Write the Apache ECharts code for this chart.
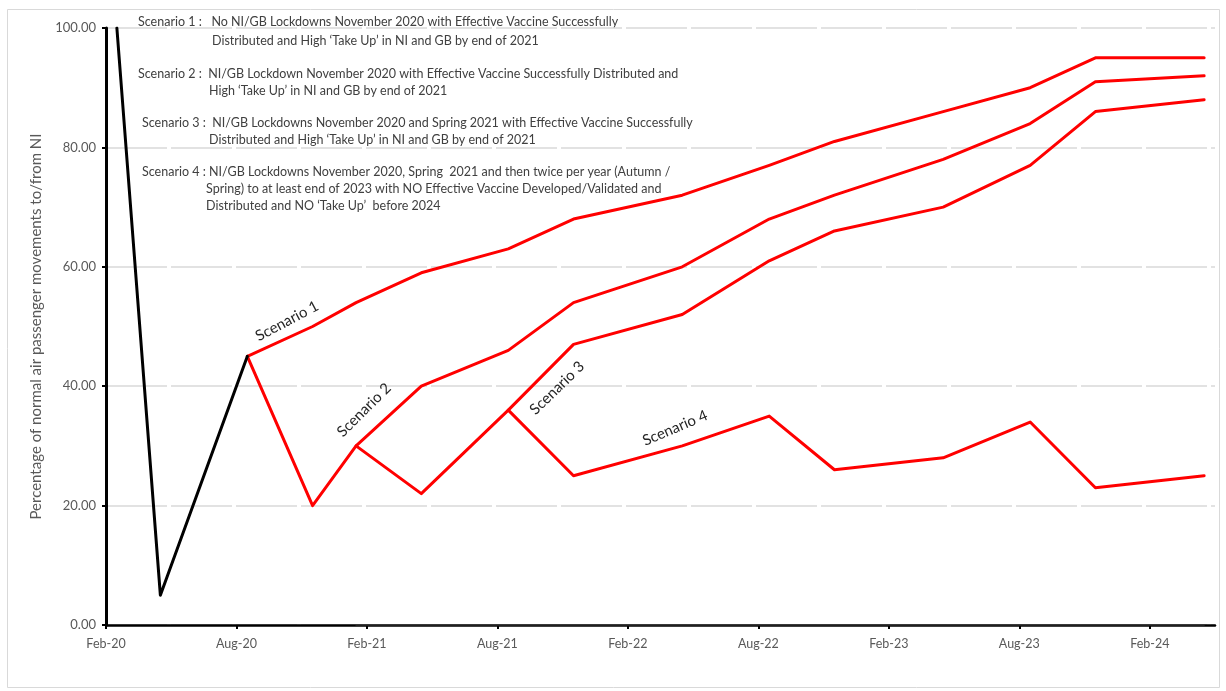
<!DOCTYPE html>
<html>
<head>
<meta charset="utf-8">
<script src="https://cdn.jsdelivr.net/npm/echarts@6/dist/echarts.min.js"></script>
<style>
  html, body { margin: 0; padding: 0; background: #ffffff; }
  #chart { width: 1226px; height: 691px; }
</style>
</head>
<body>
<div id="chart"></div>
<script>
// Observation periods (plotted mid-month) and their position in months after 1 Feb 2020
const periods  = ['Feb-20', 'Apr-20', 'Aug-20', 'Nov-20', 'Jan-21', 'Apr-21', 'Aug-21', 'Nov-21',
                  'Apr-22', 'Aug-22', 'Nov-22', 'Apr-23', 'Aug-23', 'Nov-23', 'Apr-24'];
const monthPos = [0.5, 2.5, 6.5, 9.5, 11.5, 14.5, 18.5, 21.5, 26.5, 30.5, 33.5, 38.5, 42.5, 45.5, 50.5];

// Percentage of normal air passenger movements to/from NI
const actual    = [100, 5, 45, null, null, null, null, null, null, null, null, null, null, null, null];
const scenario1 = [null, null, 45, 50, 54, 59, 63, 68, 72, 77, 81, 86, 90, 95, 95];
const scenario2 = [null, null, 45, 20, 30, 40, 46, 54, 60, 68, 72, 78, 84, 91, 92];
const scenario3 = [null, null, null, null, 30, 22, 36, 47, 52, 61, 66, 70, 77, 86, 88];
const scenario4 = [null, null, null, null, null, null, 36, 25, 30, 35, 26, 28, 34, 23, 25];
const baseline  = [null, null, null, null, 0, 0, 0, 0, 0, 0, 0, 0, 0, 0, 0];

// Axis ticks
const xTickLabels = ['Feb-20', 'Aug-20', 'Feb-21', 'Aug-21', 'Feb-22', 'Aug-22', 'Feb-23', 'Aug-23', 'Feb-24'];
const xTickStep = 6;   // months between labels
const yTicks = [0, 20, 40, 60, 80, 100];

const scenarioNotes = [
  ['Scenario 1 :   No NI/GB Lockdowns November 2020 with Effective Vaccine Successfully',
   'Distributed and High \u2018Take Up\u2019 in NI and GB by end of 2021'],
  ['Scenario 2 :  NI/GB Lockdown November 2020 with Effective Vaccine Successfully Distributed and',
   'High \u2018Take Up\u2019 in NI and GB by end of 2021'],
  ['Scenario 3 :  NI/GB Lockdowns November 2020 and Spring 2021 with Effective Vaccine Successfully',
   'Distributed and High \u2018Take Up\u2019 in NI and GB by end of 2021'],
  ['Scenario 4 : NI/GB Lockdowns November 2020, Spring  2021 and then twice per year (Autumn /',
   'Spring) to at least end of 2023 with NO Effective Vaccine Developed/Validated and',
   'Distributed and NO \u2018Take Up\u2019  before 2024']
];

const FONT = 'Lato, "Open Sans", sans-serif';

function pairs(values) {
  const out = [];
  values.forEach((v, i) => { if (v !== null) out.push([monthPos[i], v]); });
  return out;
}

const xTickValues = xTickLabels.map((_, i) => i * xTickStep);

function lineSeries(name, values, color, width, z) {
  return {
    name: name,
    type: 'line',
    data: pairs(values),
    symbol: 'none',
    z: z,
    lineStyle: { color: color, width: width, cap: 'round', join: 'round' },
    emphasis: { disabled: true },
    animation: false
  };
}

const chart = echarts.init(document.getElementById('chart'), null, { renderer: 'canvas' });

// Scenario description block and in-plot scenario tags
const noteLayout = [
  { x: 138, xIndent: 212, y: 22, dy: 19 },
  { x: 138, xIndent: 209, y: 74, dy: 17 },
  { x: 142, xIndent: 209, y: 123, dy: 17 },
  { x: 142, xIndent: 206, y: 172, dy: 17 }
];
const graphics = [
  { type: 'rect', shape: { x: 7.5, y: 9.5, width: 1212, height: 678 },
    style: { fill: 'none', stroke: '#d9d9d9', lineWidth: 1 }, silent: true, z: -10 }
];
scenarioNotes.forEach((lines, n) => {
  const L = noteLayout[n];
  lines.forEach((t, k) => {
    graphics.push({
      type: 'text',
      x: k === 0 ? L.x : L.xIndent,
      y: L.y + k * L.dy,
      style: { text: t, font: '12.5px ' + FONT, fill: '#404040',
               textAlign: 'left', textVerticalAlign: 'middle' },
      silent: true
    });
  });
});
const tags = [
  { text: 'Scenario 1', x: 287, y: 321, deg: 28 },
  { text: 'Scenario 2', x: 364, y: 410, deg: 45 },
  { text: 'Scenario 3', x: 557, y: 388, deg: 44 },
  { text: 'Scenario 4', x: 675, y: 428, deg: 23 }
];
tags.forEach(t => {
  graphics.push({
    type: 'text',
    x: t.x, y: t.y,
    rotation: t.deg * Math.PI / 180,
    style: { text: t.text, font: '15px ' + FONT, fill: '#262626',
             textAlign: 'center', textVerticalAlign: 'middle' },
    silent: true,
    z: 20
  });
});

chart.setOption({
  backgroundColor: '#ffffff',
  animation: false,
  grid: { left: 106, right: 11, top: 28, bottom: 66 },
  xAxis: {
    type: 'value',
    min: 0,
    max: 51,
    interval: xTickStep,
    axisLine: { show: true, onZero: false, lineStyle: { color: '#000000', width: 2.5 } },
    axisTick: { show: true, inside: false, length: 4, customValues: xTickValues,
                lineStyle: { color: '#000000', width: 2 } },
    axisLabel: {
      customValues: xTickValues,
      margin: 12,
      color: '#595959',
      fontSize: 12.5,
      fontFamily: FONT,
      formatter: v => xTickLabels[Math.round(v / xTickStep)] || ''
    },
    splitLine: { show: false }
  },
  yAxis: {
    type: 'value',
    min: yTicks[0],
    max: yTicks[yTicks.length - 1],
    interval: yTicks[1] - yTicks[0],
    name: 'Percentage of normal air passenger movements to/from NI',
    nameLocation: 'middle',
    nameGap: 62,
    nameTextStyle: { color: '#595959', fontSize: 15, fontFamily: FONT },
    axisLine: { show: true, lineStyle: { color: '#000000', width: 3 } },
    axisTick: { show: true, inside: false, length: 4, lineStyle: { color: '#000000', width: 2 } },
    axisLabel: {
      margin: 10,
      color: '#595959',
      fontSize: 13,
      fontFamily: FONT,
      formatter: v => v.toFixed(2)
    },
    splitLine: { show: true, lineStyle: { color: '#d9d9d9', width: 1.5, type: [61, 4] } }
  },
  series: [
    lineSeries('Baseline', baseline, '#3a3a3a', 1.5, 1),
    lineSeries('Scenario 1', scenario1, '#ff0000', 3, 3),
    lineSeries('Scenario 2', scenario2, '#ff0000', 3, 3),
    lineSeries('Scenario 3', scenario3, '#ff0000', 3, 3),
    lineSeries('Scenario 4', scenario4, '#ff0000', 3, 3),
    lineSeries('Actual', actual, '#000000', 3, 4)
  ],
  graphic: graphics
});
</script>
</body>
</html>
